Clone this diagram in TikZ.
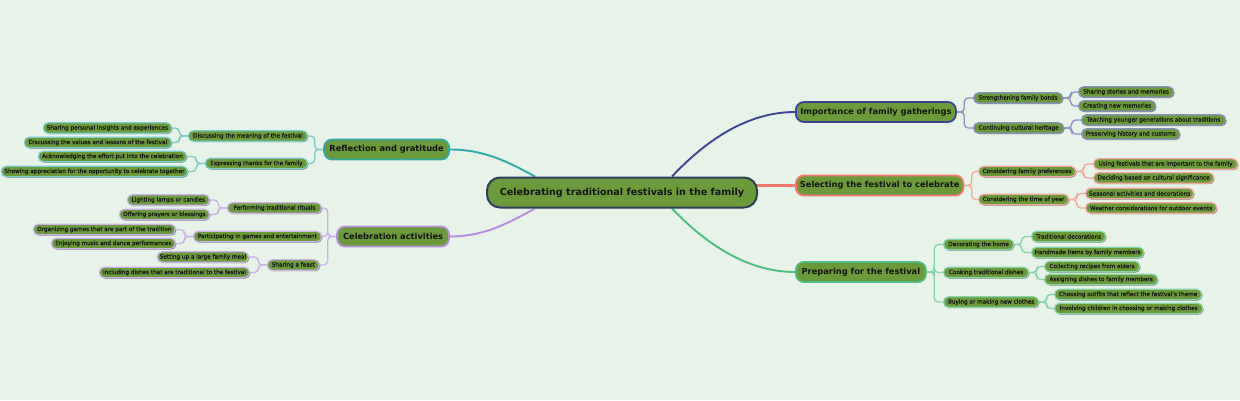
\documentclass[tikz,border=0pt]{standalone}
\usepackage{fontspec}
\setmainfont{DejaVu Sans}
\newfontfamily\leaffont{DejaVu Sans}[FakeBold=0.4]
\usetikzlibrary{shadows,calc}
\definecolor{bg}{HTML}{E7F2E8}
\definecolor{nodefill}{HTML}{6A9A3A}
\definecolor{txt}{HTML}{141414}
\definecolor{navy}{HTML}{2C3E5C}
\definecolor{cimp}{HTML}{3F4593}
\definecolor{limp}{HTML}{8A90C4}
\definecolor{csel}{HTML}{F2776E}
\definecolor{lsel}{HTML}{F4A5A0}
\definecolor{cpre}{HTML}{4CBF80}
\definecolor{lpre}{HTML}{85D4A8}
\definecolor{cref}{HTML}{2EAAA8}
\definecolor{lref}{HTML}{78CCCA}
\definecolor{ccel}{HTML}{B68DE0}
\definecolor{lcel}{HTML}{CBB0EA}
\definecolor{shadowc}{HTML}{3E4E36}
\pgfdeclarelayer{bgl}
\pgfdeclarelayer{edges}
\pgfsetlayers{bgl,edges,main}
\tikzset{
  leafbox/.style={draw=#1, line width=1.2pt, fill=nodefill, rounded corners=5pt,
    minimum height=10.5pt, inner xsep=2pt, inner ysep=0pt,
    font=\leaffont\fontsize{5.7}{6.5}\selectfont, text=txt,
    drop shadow={shadow xshift=0.9pt, shadow yshift=-0.9pt, fill=shadowc, opacity=0.7}},
  mainbox/.style={draw=#1, line width=1.8pt, fill=nodefill, rounded corners=8pt,
    minimum height=20pt, inner xsep=4pt, inner ysep=0pt,
    font=\bfseries\fontsize{8.3}{9}\selectfont, text=txt},
  centerbox/.style={draw=navy, line width=2pt, fill=nodefill, rounded corners=13pt,
    minimum height=30pt, inner xsep=6pt, inner ysep=0pt,
    font=\bfseries\fontsize{9.6}{11}\selectfont, text=txt},
  trunk/.style={draw=#1, line width=1.9pt},
  fork/.style={draw=#1, line width=1.3pt, rounded corners=4pt},
}
\begin{document}
\begin{tikzpicture}[x=1pt,y=-1pt]
\begin{pgfonlayer}{bgl}
\fill[bg] (0,0) rectangle (1240,400);
\end{pgfonlayer}
\useasboundingbox (0,0) rectangle (1240,400);

% center
\node[centerbox, minimum width=270pt] (c) at (622,192.5) {Celebrating traditional festivals in the family};

% main branches
\node[mainbox=cimp, minimum width=160pt, anchor=west] (imp) at (795,112) {Importance of family gatherings};
\node[mainbox=csel, minimum width=166pt, anchor=west] (sel) at (795,185.5) {Selecting the festival to celebrate};
\node[mainbox=cpre, minimum width=130pt, anchor=west] (pre) at (795,272) {Preparing for the festival};
\node[mainbox=cref, minimum width=125pt, anchor=east] (ref) at (450,149.5) {Reflection and gratitude};
\node[mainbox=ccel, minimum width=112pt, anchor=east] (cel) at (450,236.5) {Celebration activities};

% importance
\node[leafbox=limp, minimum width=89pt, anchor=west] (imp1) at (973,98) {Strengthening family bonds};
\node[leafbox=limp, minimum width=90pt, anchor=west] (imp2) at (973,128) {Continuing cultural heritage};
\node[leafbox=limp, minimum width=95pt, anchor=west] (imp11) at (1078,92) {Sharing stories and memories};
\node[leafbox=limp, minimum width=77pt, anchor=west] (imp12) at (1078,106) {Creating new memories};
\node[leafbox=limp, minimum width=144pt, anchor=west] (imp21) at (1081,120) {Teaching younger generations about traditions};
\node[leafbox=limp, minimum width=98pt, anchor=west] (imp22) at (1081,134) {Preserving history and customs};

% selecting
\node[leafbox=lsel, minimum width=97pt, anchor=west] (sel1) at (978,171.5) {Considering family preferences};
\node[leafbox=lsel, minimum width=90pt, anchor=west] (sel2) at (978,199.5) {Considering the time of year};
\node[leafbox=lsel, minimum width=144pt, anchor=west] (sel11) at (1093,164) {Using festivals that are important to the family};
\node[leafbox=lsel, minimum width=120pt, anchor=west] (sel12) at (1093,178) {Deciding based on cultural significance};
\node[leafbox=lsel, minimum width=108pt, anchor=west] (sel21) at (1085,193.5) {Seasonal activities and decorations};
\node[leafbox=lsel, minimum width=131pt, anchor=west] (sel22) at (1085,208) {Weather considerations for outdoor events};

% preparing
\node[leafbox=lpre, minimum width=70pt, anchor=west] (pre1) at (943,244.5) {Decorating the home};
\node[leafbox=lpre, minimum width=85pt, anchor=west] (pre2) at (943,272.5) {Cooking traditional dishes};
\node[leafbox=lpre, minimum width=95pt, anchor=west] (pre3) at (943,302) {Buying or making new clothes};
\node[leafbox=lpre, minimum width=74pt, anchor=west] (pre11) at (1031,236.5) {Traditional decorations};
\node[leafbox=lpre, minimum width=112pt, anchor=west] (pre12) at (1031,252.5) {Handmade items by family members};
\node[leafbox=lpre, minimum width=95pt, anchor=west] (pre21) at (1044,266.5) {Collecting recipes from elders};
\node[leafbox=lpre, minimum width=113pt, anchor=west] (pre22) at (1044,279.5) {Assigning dishes to family members};
\node[leafbox=lpre, minimum width=147pt, anchor=west] (pre31) at (1054,294.5) {Choosing outfits that reflect the festival's theme};
\node[leafbox=lpre, minimum width=148pt, anchor=west] (pre32) at (1054,308.5) {Involving children in choosing or making clothes};

% reflection
\node[leafbox=lref, minimum width=119pt, anchor=east] (ref1) at (308,136) {Discussing the meaning of the festival};
\node[leafbox=lref, minimum width=102pt, anchor=east] (ref2) at (308,163.5) {Expressing thanks for the family};
\node[leafbox=lref, minimum width=128pt, anchor=east] (ref11) at (172,128) {Sharing personal insights and experiences};
\node[leafbox=lref, minimum width=147pt, anchor=east] (ref12) at (172,142.5) {Discussing the values and lessons of the festival};
\node[leafbox=lref, minimum width=148pt, anchor=east] (ref21) at (187,156.5) {Acknowledging the effort put into the celebration};
\node[leafbox=lref, minimum width=186pt, anchor=east] (ref22) at (188,171.5) {Showing appreciation for the opportunity to celebrate together};

% celebration
\node[leafbox=lcel, minimum width=94pt, anchor=east] (cel1) at (322,208) {Performing traditional rituals};
\node[leafbox=lcel, minimum width=128pt, anchor=east] (cel2) at (322,236.5) {Participating in games and entertainment};
\node[leafbox=lcel, minimum width=52pt, anchor=east] (cel3) at (320,265) {Sharing a feast};
\node[leafbox=lcel, minimum width=82pt, anchor=east] (cel11) at (210,200) {Lighting lamps or candles};
\node[leafbox=lcel, minimum width=90pt, anchor=east] (cel12) at (210,214.5) {Offering prayers or blessings};
\node[leafbox=lcel, minimum width=142pt, anchor=east] (cel21) at (176,229.5) {Organizing games that are part of the tradition};
\node[leafbox=lcel, minimum width=124pt, anchor=east] (cel22) at (176,243.5) {Enjoying music and dance performances};
\node[leafbox=lcel, minimum width=91pt, anchor=east] (cel31) at (249,257) {Setting up a large family meal};
\node[leafbox=lcel, minimum width=150pt, anchor=east] (cel32) at (250,272.5) {Including dishes that are traditional to the festival};

\begin{pgfonlayer}{edges}
% trunks
\draw[trunk=cimp] ([xshift=50pt]c.north) .. controls +(25,-26.5) and +(-55,0) .. (imp.west);
\draw[draw=csel, line width=2.4pt] ([xshift=-3pt]c.east |- sel.west) -- ([xshift=3pt]sel.west);
\draw[trunk=cpre] ([xshift=50pt]c.south) .. controls +(25,26) and +(-55,0) .. (pre.west);
\draw[trunk=cref] ([xshift=-87pt]c.north) .. controls +(-26,-14) and +(35,0) .. (ref.east);
\draw[trunk=ccel] ([xshift=-87pt]c.south) .. controls +(-26,14) and +(35,0) .. (cel.east);
% right forks
\foreach \p/\k/\col in {imp/imp1/limp, imp/imp2/limp, imp1/imp11/limp, imp1/imp12/limp, imp2/imp21/limp, imp2/imp22/limp,
  sel/sel1/lsel, sel/sel2/lsel, sel1/sel11/lsel, sel1/sel12/lsel, sel2/sel21/lsel, sel2/sel22/lsel,
  pre/pre1/lpre, pre/pre2/lpre, pre/pre3/lpre, pre1/pre11/lpre, pre1/pre12/lpre, pre2/pre21/lpre, pre2/pre22/lpre, pre3/pre31/lpre, pre3/pre32/lpre}
  \draw[fork=\col] (\p.east) -- ++(7.5,0) |- (\k.west);
% left forks
\foreach \p/\k/\col in {ref/ref1/lref, ref/ref2/lref, ref1/ref11/lref, ref1/ref12/lref, ref2/ref21/lref, ref2/ref22/lref,
  cel/cel1/lcel, cel/cel2/lcel, cel/cel3/lcel, cel1/cel11/lcel, cel1/cel12/lcel, cel2/cel21/lcel, cel2/cel22/lcel, cel3/cel31/lcel, cel3/cel32/lcel}
  \draw[fork=\col] (\p.west) -- ++(-8.5,0) |- (\k.east);
\end{pgfonlayer}
\end{tikzpicture}
\end{document}
